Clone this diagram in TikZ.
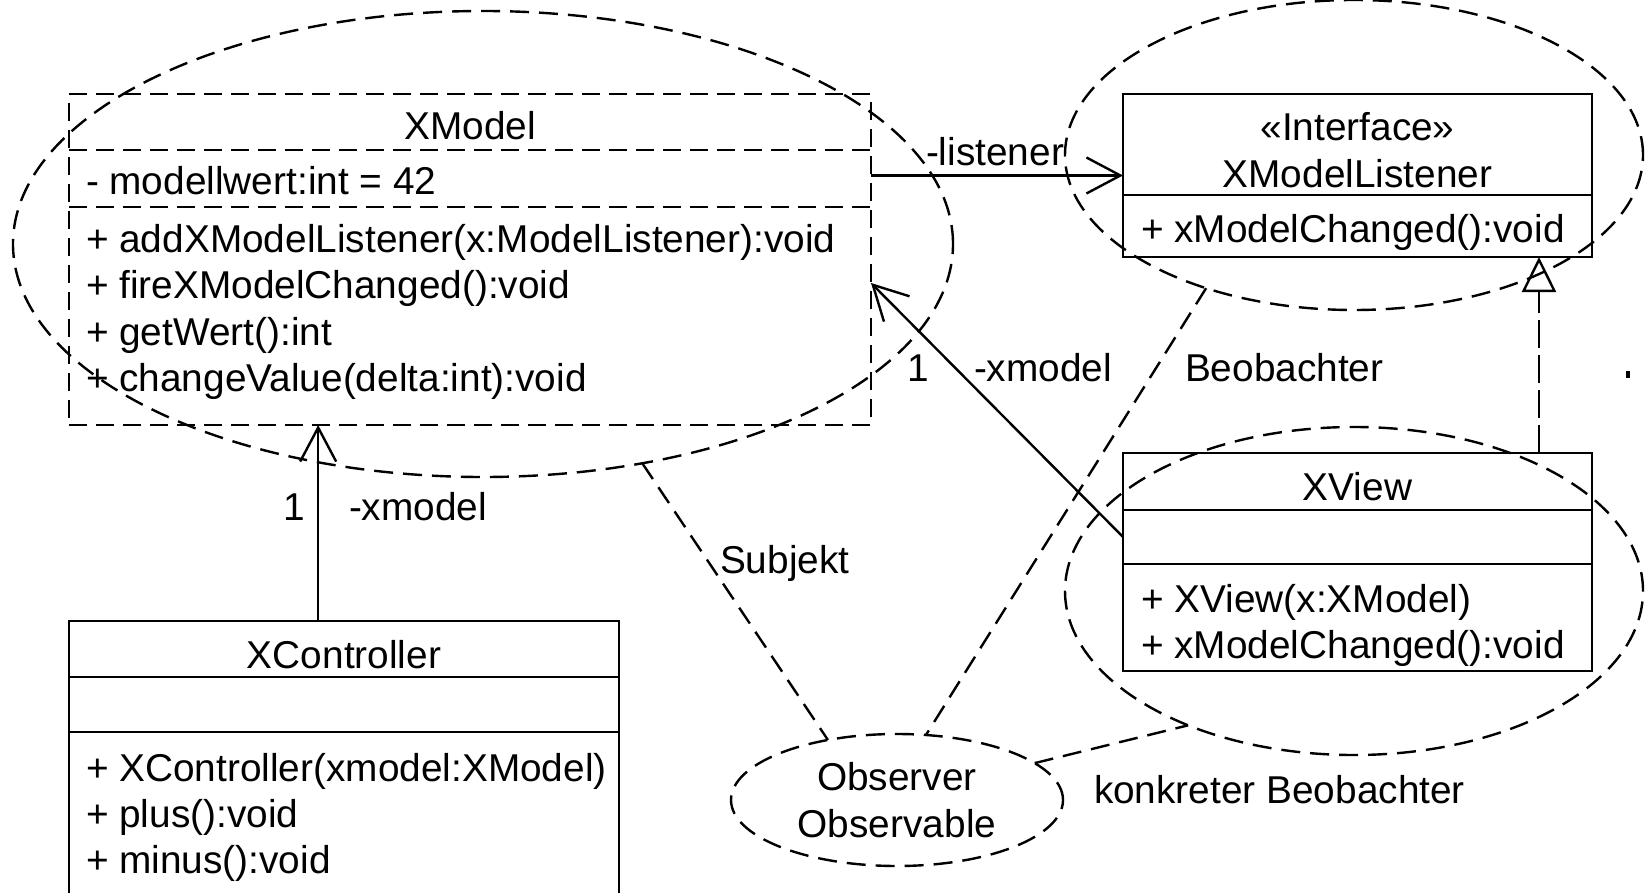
\documentclass[tikz,border=0pt]{standalone}
\usepackage{fontspec}
\setmainfont{Liberation Sans}
\usetikzlibrary{arrows.meta,shapes.geometric,calc}
\begin{document}
\begin{tikzpicture}[x=1pt,y=-1pt,
  every node/.style={font=\fontsize{38.8pt}{46.5pt}\selectfont, inner sep=0pt, outer sep=0pt},
  classbox/.style={draw, line width=2.5pt, anchor=north west},
  dbox/.style={classbox, dash pattern=on 18pt off 9pt},
  sepline/.style={line width=2.5pt},
  dsep/.style={line width=2.5pt, dash pattern=on 18pt off 9pt},
  txt/.style={anchor=base west},
  ctxt/.style={anchor=base},
  ell/.style={draw, ellipse, line width=2.4pt, dash pattern=on 19pt off 10pt},
  gline/.style={line width=2.4pt, dash pattern=on 19pt off 10pt},
  assoc/.style={line width=2.4pt, -{Straight Barb[length=34pt,width=36pt,line width=2.4pt]}},
  realize/.style={line width=1.8pt, dash pattern=on 28pt off 7pt, -{Triangle[open,length=35pt,width=34pt,line width=2.4pt,fill=white]}}
]
\clip (0,0) rectangle (1645,893);
\useasboundingbox (0,0) rectangle (1645,893);

% ---------------- XModel ----------------
\node[dbox, minimum width=802pt, minimum height=331pt] (xmodel) at (69,94) {};
\draw[dsep] (xmodel.west |- 0,150) -- (xmodel.east |- 0,150);
\draw[dsep] (xmodel.west |- 0,207) -- (xmodel.east |- 0,207);
\node[ctxt] (xmT) at (470,140) {XModel};
\node[txt] (xmA) at (86,195) {- modellwert:int = 42};
\node[txt] (xm1) at (86,252) {+ addXModelListener(x:ModelListener):void};
\node[txt] (xm2) at (86,298.5) {+ fireXModelChanged():void};
\node[txt] (xm3) at (86,345) {+ getWert():int};
\node[txt] (xm4) at (86,391.5) {+ changeValue(delta:int):void};

% ---------------- XModelListener ----------------
\node[classbox, minimum width=469pt, minimum height=163pt] (xlis) at (1123,94) {};
\draw[sepline] (xlis.west |- 0,195) -- (xlis.east |- 0,195);
\node[ctxt] (xlS) at (1357.5,141) {«Interface»};
\node[ctxt] (xlT) at (1357.5,188) {XModelListener};
\node[txt] (xl1) at (1141,243) {+ xModelChanged():void};

% ---------------- XView ----------------
\node[classbox, minimum width=469pt, minimum height=218pt] (xview) at (1123,453) {};
\draw[sepline] (xview.west |- 0,510) -- (xview.east |- 0,510);
\draw[sepline] (xview.west |- 0,564) -- (xview.east |- 0,564);
\node[ctxt] (xvT) at (1357.5,500) {XView};
\node[txt] (xv1) at (1141,612) {+ XView(x:XModel)};
\node[txt] (xv2) at (1141,658) {+ xModelChanged():void};

% ---------------- XController ----------------
\node[classbox, minimum width=550pt, minimum height=300pt] (xctl) at (69,621) {};
\draw[sepline] (xctl.west |- 0,677) -- (xctl.east |- 0,677);
\draw[sepline] (xctl.west |- 0,732) -- (xctl.east |- 0,732);
\node[ctxt] (xcT) at (344,668) {XController};
\node[txt] (xc1) at (86,781) {+ XController(xmodel:XModel)};
\node[txt] (xc2) at (86,827) {+ plus():void};
\node[txt] (xc3) at (86,873) {+ minus():void};

% ---------------- connectors ----------------
\draw[assoc] ($(xctl.north west)!0.453!(xctl.north east)$) coordinate (ca) -- (ca |- xmodel.south);
\node[ctxt] (l1a) at (294,520) {1};
\node[txt] (l1b) at (349,520) {-xmodel};

\path ($(xlis.north west)!0.5!(xlis.south west)$) coordinate (lb);
\draw[assoc] (lb -| xmodel.east) -- (lb);
\node[txt] (llis) at (926,166) {-listener};

\draw[assoc] ($(xview.north west)!0.385!(xview.south west)$) -- ($(xmodel.north east)!0.571!(xmodel.south east)$);
\node[ctxt] (l2a) at (918,381) {1};
\node[txt] (l2b) at (974,381) {-xmodel};

\draw[realize] ($(xview.north west)!0.887!(xview.north east)$) coordinate (ra) -- (ra |- xlis.south);

% ---------------- pattern ellipses ----------------
\node[ell, minimum width=940pt, minimum height=466pt] (eModel) at (483,244) {};
\node[ell, minimum width=578pt, minimum height=310pt] (eLis) at (1354,155) {};
\node[ell, minimum width=578pt, minimum height=328pt] (eView) at (1354,591) {};
\node[ell, minimum width=332pt, minimum height=132pt, align=center] (eObs) at (897,800) {Observer\\Observable};

\draw[gline] (eModel.-54) -- (eObs.139);
\draw[gline] (eLis.222) -- (eObs.66);
\draw[gline] (eObs.15) -- (eView.219);

\node[txt] (lSub) at (720,573) {Subjekt};
\node[txt] (lBeo) at (1185,381) {Beobachter};
\node[txt] (lKon) at (1094,803) {konkreter Beobachter};

\fill (1626,371) rectangle (1630,378);
\end{tikzpicture}
\end{document}
